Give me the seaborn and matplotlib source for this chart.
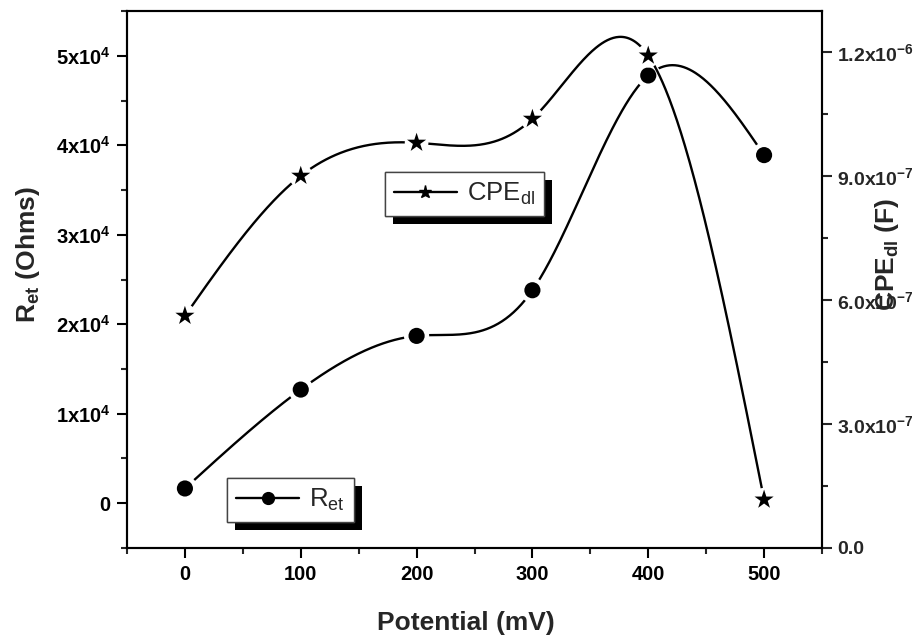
import numpy as np
import pandas as pd
import matplotlib
matplotlib.use("Agg")
import matplotlib.pyplot as plt
import seaborn as sns
from matplotlib.lines import Line2D
from matplotlib import patheffects as pe
from matplotlib.ticker import MultipleLocator

# ---- data -------------------------------------------------------------
potential_mv = [0, 100, 200, 300, 400, 500]
r_et_ohms = [1650, 12700, 18700, 23800, 47800, 38900]
cpe_dl_farad = [5.62e-7, 9.01e-7, 9.81e-7, 1.039e-6, 1.192e-6, 1.17e-7]

x_ticks = [0, 100, 200, 300, 400, 500]
left_ticks = [0, 1e4, 2e4, 3e4, 4e4, 5e4]
left_ticklabels = ["0", "1x10$^{4}$", "2x10$^{4}$", "3x10$^{4}$", "4x10$^{4}$", "5x10$^{4}$"]
right_ticks = [0, 3e-7, 6e-7, 9e-7, 1.2e-6]
right_ticklabels = ["0.0", "3.0x10$^{-7}$", "6.0x10$^{-7}$", "9.0x10$^{-7}$", "1.2x10$^{-6}$"]

df = pd.DataFrame({"potential": potential_mv, "r_et": r_et_ohms, "cpe": cpe_dl_farad})

# ---- style ------------------------------------------------------------
sns.set_style("ticks")
plt.rcParams["font.family"] = ["Liberation Sans", "DejaVu Sans"]
plt.rcParams["mathtext.default"] = "regular"
plt.rcParams["axes.linewidth"] = 1.5


def natural_spline(xk, yk, xs):
    """Natural cubic spline through the knots (xk, yk), evaluated at xs."""
    xk = np.asarray(xk, float)
    yk = np.asarray(yk, float)
    n = len(xk)
    h = np.diff(xk)
    A = np.zeros((n, n))
    b = np.zeros(n)
    A[0, 0] = A[-1, -1] = 1.0
    for i in range(1, n - 1):
        A[i, i - 1] = h[i - 1]
        A[i, i] = 2 * (h[i - 1] + h[i])
        A[i, i + 1] = h[i]
        b[i] = 6 * ((yk[i + 1] - yk[i]) / h[i] - (yk[i] - yk[i - 1]) / h[i - 1])
    M = np.linalg.solve(A, b)
    idx = np.clip(np.searchsorted(xk, xs) - 1, 0, n - 2)
    x0, x1 = xk[idx], xk[idx + 1]
    hh = x1 - x0
    t0, t1 = x1 - xs, xs - x0
    return ((M[idx] * t0 ** 3 + M[idx + 1] * t1 ** 3) / (6 * hh)
            + (yk[idx] / hh - M[idx] * hh / 6) * t0
            + (yk[idx + 1] / hh - M[idx + 1] * hh / 6) * t1)


xs = np.linspace(df["potential"].min(), df["potential"].max(), 600)
r_curve = natural_spline(df["potential"], df["r_et"], xs)
c_curve = natural_spline(df["potential"], df["cpe"], xs)

# ---- figure -----------------------------------------------------------
fig = plt.figure(figsize=(9.17, 6.41), dpi=100)
ax = fig.add_axes([0.1385, 0.1451, 0.7579, 0.8377])
ax2 = ax.twinx()

LW = 1.7
# R_et on the left axis
sns.lineplot(x=xs, y=r_curve, ax=ax, color="black", lw=LW, sort=False,
             estimator=None, legend=False, zorder=2)
sns.scatterplot(data=df, x="potential", y="r_et", ax=ax, marker="o", s=330,
                color="white", edgecolor="none", legend=False, zorder=3)
sns.scatterplot(data=df, x="potential", y="r_et", ax=ax, marker="o", s=135,
                color="black", edgecolor="none", legend=False, zorder=4)

# CPE_dl on the right axis
sns.lineplot(x=xs, y=c_curve, ax=ax2, color="black", lw=LW, sort=False,
             estimator=None, legend=False, zorder=2)
sns.scatterplot(data=df, x="potential", y="cpe", ax=ax2, marker="o", s=290,
                color="white", edgecolor="none", legend=False, zorder=3)
sns.scatterplot(data=df, x="potential", y="cpe", ax=ax2, marker="*", s=210,
                color="black", edgecolor="none", legend=False, zorder=4)

# ---- axes -------------------------------------------------------------
ax.set_xlim(-50, 550)
ax.set_ylim(-5000, 55000)
ax2.set_ylim(0, 1.3e-6)

ax.set_xticks(x_ticks, labels=[str(v) for v in x_ticks], fontweight="bold", fontsize=14.5)
ax.set_yticks(left_ticks, labels=left_ticklabels, fontweight="bold", fontsize=14.5)
ax2.set_yticks(right_ticks, labels=right_ticklabels, fontweight="bold", fontsize=14)

ax.xaxis.set_minor_locator(MultipleLocator(50))
ax.yaxis.set_minor_locator(MultipleLocator(5000))
ax2.yaxis.set_minor_locator(MultipleLocator(1.5e-7))

for a in (ax, ax2):
    for s in a.spines.values():
        s.set_visible(True)
        s.set_color("black")
        s.set_linewidth(1.5)
ax.tick_params(axis="both", which="major", direction="out", length=7, width=1.5,
               colors="black", pad=5, top=False, right=False)
ax.tick_params(axis="both", which="minor", direction="out", length=4.5, width=1.5,
               top=False, right=False)
ax2.tick_params(axis="y", which="major", direction="out", length=7, width=1.5, pad=4)
ax2.tick_params(axis="y", which="minor", direction="out", length=4.5, width=1.5)

ax.set_xlabel("Potential (mV)", fontsize=19, fontweight="bold")
ax.xaxis.set_label_coords(0.488, -0.117)
ax.set_ylabel("R$_{et}$ (Ohms)", fontsize=19, fontweight="bold")
ax.yaxis.label.set_verticalalignment("center")
ax.yaxis.set_label_coords(-0.142, 0.546)
ax2.set_ylabel("CPE$_{dl}$ (F)", fontsize=19, fontweight="bold", rotation=90)
ax2.yaxis.label.set_verticalalignment("center")
ax2.yaxis.set_label_coords(1.093, 0.546)

# ---- legends ----------------------------------------------------------
shadow = [pe.withSimplePatchShadow(offset=(5.8, -5.8), shadow_rgbFace="black", alpha=1.0),
          pe.Normal()]

h_cpe = Line2D([], [], color="black", lw=LW, marker="*", markersize=9.5)
leg_c = ax2.legend([h_cpe], ["CPE$_{dl}$"], loc="upper left", bbox_to_anchor=(0.371, 0.700),
                   borderaxespad=0, fontsize=18.5, handlelength=2.45, handletextpad=0.4,
                   borderpad=0.35, fancybox=False, framealpha=1, edgecolor="#444444")
leg_c.get_frame().set_linewidth(1.0)
leg_c.get_frame().set_path_effects(shadow)

h_r = Line2D([], [], color="black", lw=LW, marker="o", markersize=8.5)
leg_r = ax.legend([h_r], ["R$_{et}$"], loc="upper left", bbox_to_anchor=(0.144, 0.130),
                  borderaxespad=0, fontsize=18.5, handlelength=2.45, handletextpad=0.4,
                  borderpad=0.35, fancybox=False, framealpha=1, edgecolor="#444444")
leg_r.get_frame().set_linewidth(1.0)
leg_r.get_frame().set_path_effects(shadow)

fig.savefig("out.png", dpi=100, facecolor="white")
